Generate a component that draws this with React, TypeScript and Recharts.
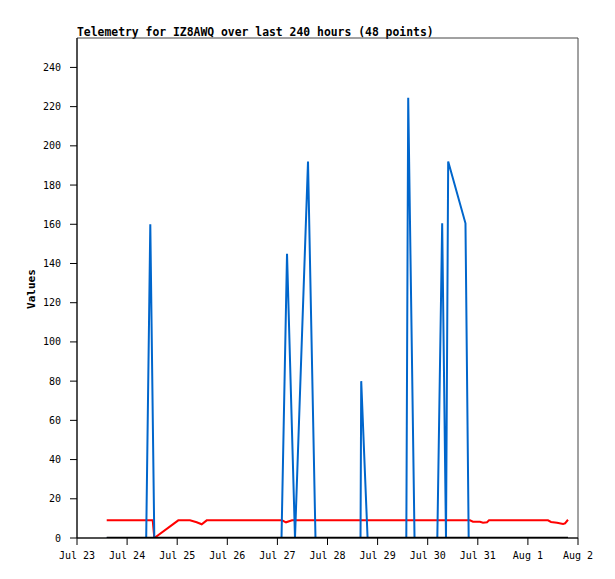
import React from "react";
import { LineChart, Line, XAxis, YAxis, ReferenceArea } from "recharts";

// time is in days of July (Aug 1 = 32)
const dayTicks = [23, 24, 25, 26, 27, 28, 29, 30, 31, 32, 33];
const valueTicks = [0, 20, 40, 60, 80, 100, 120, 140, 160, 180, 200, 220, 240];

const redTimes = [
  23.593, 24.511, 24.543, 25.022, 25.255, 25.389, 25.489, 25.589, 27.092, 27.172, 27.291, 30.844,
  30.904, 31.044, 31.104, 31.184, 31.224, 32.401, 32.461, 32.581, 32.701, 32.741, 32.8,
];
const redValues = [9, 9, 0, 9, 9, 8, 7, 9, 9, 8, 9, 9, 8.3, 8.3, 7.8, 8, 9, 9, 8.2, 7.8, 7.1, 7.5, 9.3];

const blueTimes = [
  23.593, 24.381, 24.463, 24.543, 27.082, 27.192, 27.351, 27.611, 27.76, 28.659, 28.673, 28.8,
  29.573, 29.611, 29.737, 30.192, 30.289, 30.365, 30.409, 30.754, 30.818, 32.8,
];
const blueValues = [0, 0, 160, 0, 0, 145, 0, 192, 0, 0, 80, 0, 0, 224.5, 0, 0, 160.5, 0, 192, 160.5, 0, 0];

const blackTimes = [23.593, 32.8];
const blackValues = [0, 0];

const toPoints = (times: number[], values: number[]) => times.map((t, i) => ({ t, v: values[i] }));

const redData = toPoints(redTimes, redValues);
const blueData = toPoints(blueTimes, blueValues);
const blackData = toPoints(blackTimes, blackValues);

const mono = "'DejaVu Sans Mono', monospace";

const dayLabel = (t: number) => (t < 32 ? `Jul ${t}` : `Aug ${t - 31}`);

export default function App() {
  return (
    <div style={{ position: "absolute", left: 0, top: 0, width: 615, height: 579, background: "#fff" }}>
      <div
        style={{
          position: "absolute",
          left: 77,
          top: 25,
          fontFamily: mono,
          fontWeight: "bold",
          fontSize: 11.4,
          lineHeight: "14px",
          color: "#000",
          whiteSpace: "nowrap",
        }}
      >
        Telemetry for IZ8AWQ over last 240 hours (48 points)
      </div>
      <LineChart width={615} height={579} margin={{ top: 38, right: 37, bottom: 11, left: 17 }}>
        <ReferenceArea x1={23} x2={33} y1={0} y2={255} fill="none" stroke="#444" strokeWidth={1} ifOverflow="visible" />
        <XAxis
          type="number"
          dataKey="t"
          domain={[23, 33]}
          ticks={dayTicks}
          tickFormatter={dayLabel}
          allowDataOverflow
          height={30}
          stroke="#000"
          tickSize={7}
          tickMargin={7}
          tick={{ fill: "#000", fontSize: 10, fontFamily: mono }}
        />
        <YAxis
          type="number"
          dataKey="v"
          domain={[0, 255]}
          ticks={valueTicks}
          allowDataOverflow
          width={60}
          stroke="#000"
          tickSize={7}
          tickMargin={9}
          tick={{ fill: "#000", fontSize: 10, fontFamily: mono }}
          label={{
            content: () => (
              <text
                x={35}
                y={289}
                transform="rotate(-90 35 289)"
                textAnchor="middle"
                fontFamily={mono}
                fontWeight="bold"
                fontSize={11}
                fill="#000"
              >
                Values
              </text>
            ),
          }}
        />
        <Line data={redData} dataKey="v" type="linear" stroke="#ff0000" strokeWidth={2} dot={false} isAnimationActive={false} />
        <Line data={blueData} dataKey="v" type="linear" stroke="#0066cc" strokeWidth={2} dot={false} isAnimationActive={false} />
        <Line data={blackData} dataKey="v" type="linear" stroke="#000" strokeWidth={2.5} dot={false} isAnimationActive={false} />
      </LineChart>
    </div>
  );
}
